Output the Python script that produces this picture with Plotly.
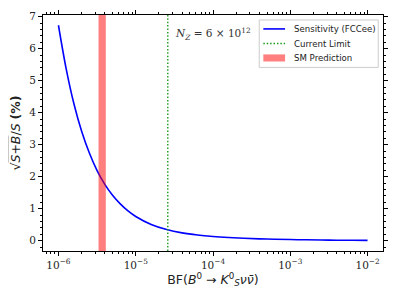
import plotly.graph_objects as go

# Branching fraction values (x) and sensitivity sqrt(S+B)/S in % (y)
bf = [1.0e-6, 1.259e-6, 1.585e-6, 1.995e-6, 2.512e-6, 3.162e-6, 3.981e-6, 5.012e-6,
      6.310e-6, 7.943e-6, 1.0e-5, 1.585e-5, 2.512e-5, 3.981e-5, 6.310e-5, 1.0e-4,
      1.585e-4, 2.512e-4, 3.981e-4, 6.310e-4, 1.0e-3, 1.585e-3, 2.512e-3, 3.981e-3,
      6.310e-3, 1.0e-2]
sens = [6.73, 5.37, 4.28, 3.42, 2.74, 2.19, 1.76, 1.42,
        1.15, 0.93, 0.756, 0.508, 0.349, 0.246, 0.178, 0.132,
        0.100, 0.077, 0.060, 0.047, 0.037, 0.029, 0.023, 0.018,
        0.0145, 0.0115]

current_limit = 2.6e-5
sm_low, sm_high = 3.3e-6, 4.1e-6

xtick_vals = [1e-6, 1e-5, 1e-4, 1e-3, 1e-2]
xtick_text = ["10<sup>−6</sup>", "10<sup>−5</sup>", "10<sup>−4</sup>", "10<sup>−3</sup>", "10<sup>−2</sup>"]
ytick_vals = [0, 1, 2, 3, 4, 5, 6, 7]

legend_names = ["Sensitivity (FCCee)", "Current Limit", "SM Prediction"]

yr = [-0.32, 7.05]
minor_x = [m * 10.0 ** e for e in range(-7, -1) for m in range(2, 10)]
minor_x = [v for v in minor_x if 6.3e-7 < v < 1.6e-2]
minor_y = [i * 0.2 for i in range(-1, 36) if i % 5 != 0]

BLUE, GREEN, RED = "blue", "#1a9a1a", "rgba(255,0,0,0.5)"
DOT = "1.5px,1.9px"

fig = go.Figure()
fig.add_trace(go.Scatter(x=bf, y=sens, mode="lines", line=dict(color=BLUE, width=1.6, shape="spline"),
                         name=legend_names[0], showlegend=False))
fig.add_trace(go.Scatter(x=[current_limit, current_limit], y=yr, mode="lines",
                         line=dict(color=GREEN, width=1.4, dash=DOT), name=legend_names[1], showlegend=False))
fig.add_trace(go.Scatter(x=[sm_low, sm_low, sm_high, sm_high, sm_low], y=[yr[0], yr[1], yr[1], yr[0], yr[0]],
                         mode="lines", fill="toself", fillcolor=RED,
                         line=dict(width=0, color=RED), name=legend_names[2], showlegend=False))

fig.add_annotation(x=-4.0, y=6.45, xref="x", yref="y",
                   text="<i>N</i><sub><i>Z</i></sub> = 6 × 10<sup>12</sup>", showarrow=False,
                   font=dict(family="DejaVu Serif", size=10.5, color="#333"))

# legend box (drawn to match the compact matplotlib legend)
fig.add_shape(type="rect", xref="paper", yref="paper", x0=0.636, x1=0.986, y0=0.778, y1=0.979,
              fillcolor="rgba(255,255,255,0.8)", line=dict(color="#cccccc", width=1), layer="above")
rows = [0.941, 0.879, 0.818]
fig.add_shape(type="line", xref="paper", yref="paper", x0=0.648, x1=0.712, y0=rows[0], y1=rows[0],
              line=dict(color=BLUE, width=1.6), layer="above")
fig.add_shape(type="line", xref="paper", yref="paper", x0=0.648, x1=0.712, y0=rows[1], y1=rows[1],
              line=dict(color=GREEN, width=1.4, dash=DOT), layer="above")
fig.add_shape(type="rect", xref="paper", yref="paper", x0=0.648, x1=0.712, y0=0.803, y1=0.833,
              fillcolor=RED, line=dict(width=0), layer="above")
for name, ry in zip(legend_names, rows):
    fig.add_annotation(x=0.732, y=ry, xref="paper", yref="paper", text=name, showarrow=False,
                       xanchor="left", yanchor="middle",
                       font=dict(family="DejaVu Sans", size=8.6, color="#222"))

fig.update_xaxes(type="log", range=[-6.2, -1.8], tickvals=xtick_vals, ticktext=xtick_text,
                 ticks="outside", ticklen=4, tickwidth=1, tickcolor="black", automargin=False,
                 showline=True, linecolor="black", linewidth=1, mirror="allticks",
                 showgrid=False, zeroline=False,
                 tickfont=dict(family="DejaVu Serif", size=10.5, color="#222"),
                 minor=dict(tickvals=minor_x, ticks="outside", ticklen=2, tickcolor="black", showgrid=False),
                 title=dict(text="BF(<i>B</i><sup>0</sup> → <i>K</i><sup>0</sup><sub><i>S</i></sub><i>νν̄</i>)",
                            font=dict(family="DejaVu Sans", size=12.5, color="#222"), standoff=3))
fig.update_yaxes(range=yr, tickvals=ytick_vals, ticks="outside", ticklen=4, tickwidth=1, tickcolor="black",
                 showline=True, linecolor="black", linewidth=1, mirror="allticks", automargin=False,
                 showgrid=False, zeroline=False,
                 tickfont=dict(family="DejaVu Serif", size=10.5, color="#222"),
                 minor=dict(tickvals=minor_y, ticks="outside", ticklen=2, tickcolor="black", showgrid=False),
                 title=dict(text="√<span style='text-decoration:overline'><i>S</i>+<i>B</i></span>/<i>S</i> <b>(%)</b>",
                            font=dict(family="DejaVu Sans", size=12.5, color="#222"), standoff=6))

# page body has an 8px default margin, so the figure is shrunk and margins shifted accordingly
fig.update_layout(width=391, height=291, margin=dict(l=35, r=16, t=7, b=48),
                  plot_bgcolor="white", paper_bgcolor="white", showlegend=False)
fig.write_html("out.html")
